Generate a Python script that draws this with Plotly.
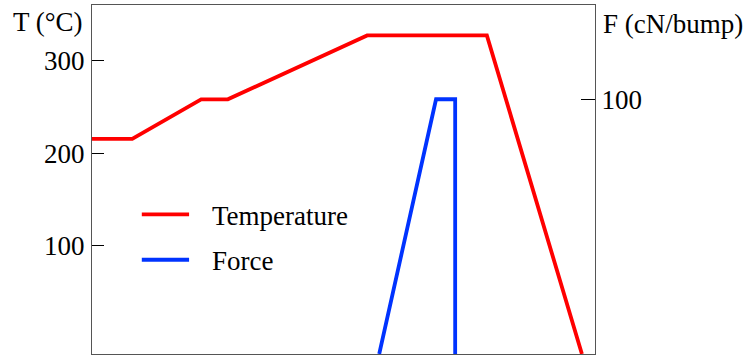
import plotly.graph_objects as go

# time axis is unlabeled in the reference, arbitrary units 0-100
temp_time = [0, 8.0, 21.7, 27.0, 54.7, 78.5, 97.4]
temp_values = [215.7, 215.7, 258.5, 258.5, 327.6, 327.6, -17]

force_time = [57.1, 68.4, 72.2, 72.2]
force_values = [0, 100, 100, 0]

t_ticks = [100, 200, 300]
f_ticks = [100]

font_family = "Liberation Serif, Times New Roman, serif"
frame_color = "#555555"
font_size = 27

fig = go.Figure()

fig.add_trace(go.Scatter(
    x=temp_time, y=temp_values, mode="lines",
    line=dict(color="#ff0000", width=3.8),
    name="Temperature", yaxis="y", showlegend=False
))

fig.add_trace(go.Scatter(
    x=force_time, y=force_values, mode="lines",
    line=dict(color="#0033ff", width=3.8),
    name="Force", yaxis="y2", showlegend=False
))

# legend drawn by hand so the sample lines match the original length
legend_items = [("Temperature", "#ff0000", 0.400), ("Force", "#0033ff", 0.270)]
for label, color, ypos in legend_items:
    fig.add_shape(type="line", xref="paper", yref="paper",
                  x0=0.099, x1=0.193, y0=ypos, y1=ypos,
                  line=dict(color=color, width=3.8))
    fig.add_annotation(x=0.2346, y=ypos - 0.004, xref="paper", yref="paper",
                       text=label, showarrow=False, xanchor="left", yanchor="middle",
                       font=dict(size=font_size, color="black", family=font_family))

# axis titles
fig.add_annotation(x=-0.0875, y=0.951, xref="paper", yref="paper",
                   text="T (°C)", showarrow=False, xanchor="center", yanchor="middle",
                   font=dict(size=font_size, color="black", family=font_family))
fig.add_annotation(x=1.012, y=0.9456, xref="paper", yref="paper",
                   text="F (cN/bump)", showarrow=False, xanchor="left", yanchor="middle",
                   font=dict(size=font_size, color="black", family=font_family))

fig.update_layout(
    width=751, height=356,
    margin=dict(l=92, r=156, t=5, b=2),
    paper_bgcolor="white", plot_bgcolor="white",
    font=dict(family=font_family, size=font_size, color="black"),
    xaxis=dict(range=[0, 100], showticklabels=False, ticks="",
               showgrid=False, zeroline=False,
               showline=True, mirror=True, linecolor=frame_color, linewidth=1),
    yaxis=dict(range=[-17, 360.5], tickvals=t_ticks, ticks="inside", ticklen=12,
               tickcolor="black", showgrid=False, zeroline=False,
               ticklabelstandoff=1,
               showline=True, linecolor=frame_color, linewidth=1),
    yaxis2=dict(range=[0, 137], tickvals=f_ticks, ticks="inside", ticklen=14,
                tickcolor="black", overlaying="y", side="right",
                showgrid=False, zeroline=False,
                showline=True, linecolor=frame_color, linewidth=1),
)

# page body has a default 8px margin; remove it so the figure sits at the corner
fig.write_html("out.html", config={"displayModeBar": False},
               post_script="document.body.style.margin='0';")
